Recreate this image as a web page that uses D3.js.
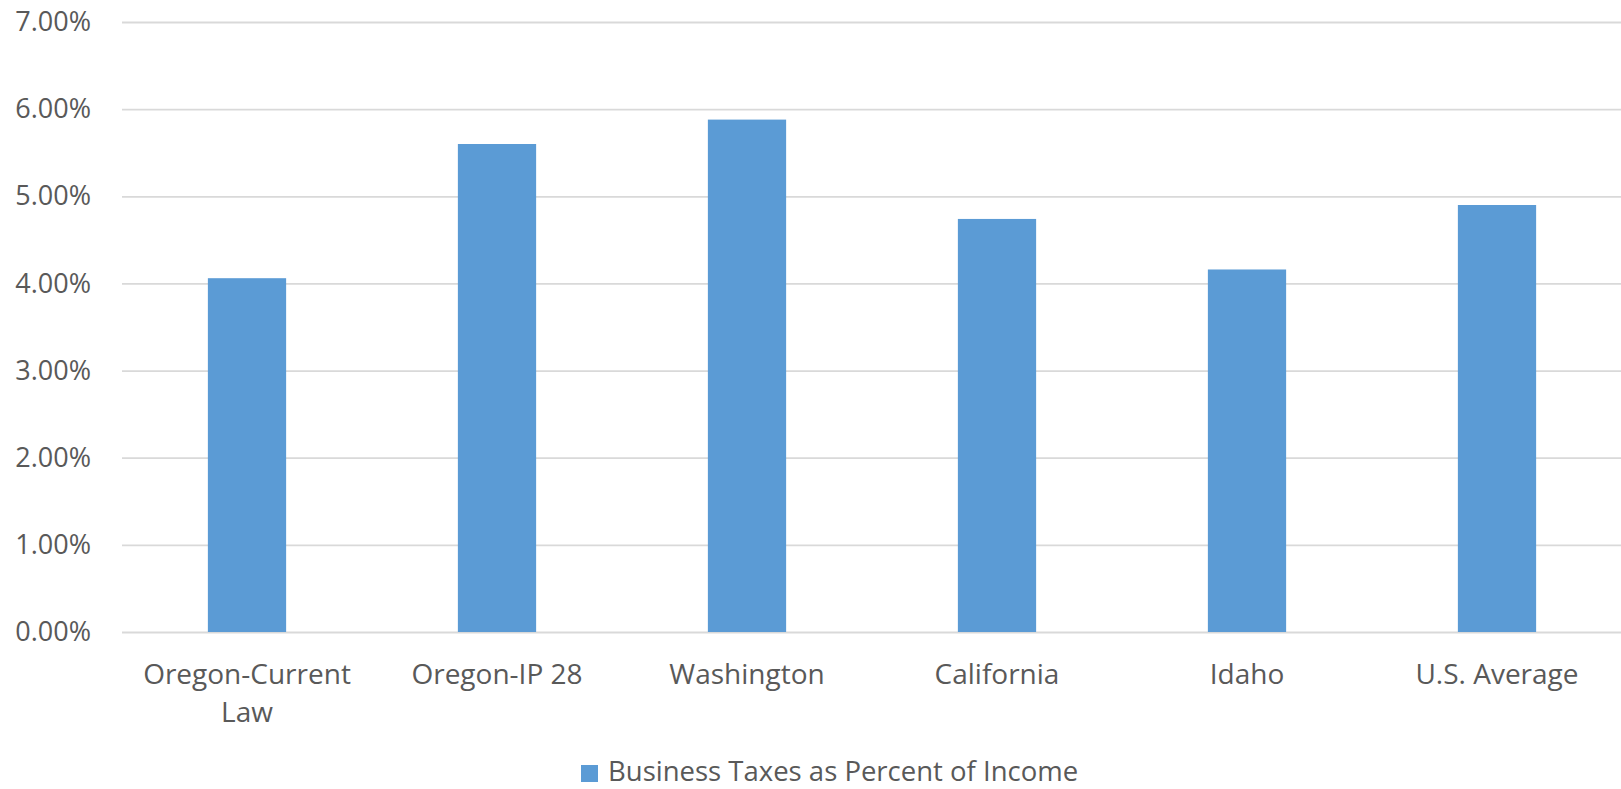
<!DOCTYPE html>
<html>
<head>
<meta charset="utf-8">
<script src="https://cdn.jsdelivr.net/npm/d3@7"></script>
<style>
  html, body { margin: 0; padding: 0; background: #ffffff; }
  svg { display: block; }
  text { font-family: "Open Sans", "Noto Sans", sans-serif; fill: #595959; }
</style>
</head>
<body>
<svg id="chart" width="1621" height="789"></svg>
<script>
// Business taxes as a share of income, by state / scenario
const categories = [["Oregon-Current", "Law"], ["Oregon-IP 28"], ["Washington"], ["California"], ["Idaho"], ["U.S. Average"]];
const values = [0.0406, 0.0560, 0.0588, 0.0474, 0.0416, 0.0490];
const yTicks = [0, 0.01, 0.02, 0.03, 0.04, 0.05, 0.06, 0.07];
const seriesName = "Business Taxes as Percent of Income";

const svg = d3.select("#chart");
const margin = { left: 122, right: -1, top: 22, bottom: 157 };
const width = 1621, height = 789;

const x = d3.scaleBand()
  .domain(d3.range(categories.length))
  .range([margin.left, width - margin.right])
  .paddingInner(0.687)
  .paddingOuter(0.687 / 2);

const y = d3.scaleLinear()
  .domain([0, 0.07])
  .range([height - margin.bottom, margin.top]);

// Horizontal gridlines with percentage labels
const yAxis = d3.axisLeft(y)
  .tickValues(yTicks)
  .tickFormat(d3.format(".2%"))
  .tickSize(-(width - margin.right - margin.left))
  .tickPadding(31);

const gy = svg.append("g")
  .attr("transform", `translate(${margin.left},0)`)
  .call(yAxis);
gy.select(".domain").remove();
gy.selectAll(".tick line").attr("stroke", "#d9d9d9").attr("stroke-width", 1.8);
gy.selectAll(".tick text").style("font-size", "27px").style("fill", "#595959");

// Bars
svg.append("g").selectAll("rect")
  .data(values)
  .join("rect")
  .attr("x", (d, i) => x(i))
  .attr("width", x.bandwidth())
  .attr("y", d => y(d))
  .attr("height", d => y(0) - y(d))
  .attr("fill", "#5b9bd5");

// Category labels (may wrap onto two lines)
const gx = svg.append("g");
categories.forEach((lines, i) => {
  const t = gx.append("text")
    .attr("x", x(i) + x.bandwidth() / 2)
    .attr("y", y(0) + 52)
    .attr("text-anchor", "middle")
    .style("font-size", "28px");
  lines.forEach((ln, j) => {
    t.append("tspan")
      .attr("x", x(i) + x.bandwidth() / 2)
      .attr("dy", j === 0 ? 0 : 38)
      .text(ln);
  });
});

// Legend
const legend = svg.append("g").attr("transform", "translate(581,765)");
legend.append("rect").attr("width", 17).attr("height", 17).attr("fill", "#5b9bd5");
legend.append("text")
  .attr("x", 27)
  .attr("y", 16)
  .style("font-size", "27.5px")
  .text(seriesName);
</script>
</body>
</html>
